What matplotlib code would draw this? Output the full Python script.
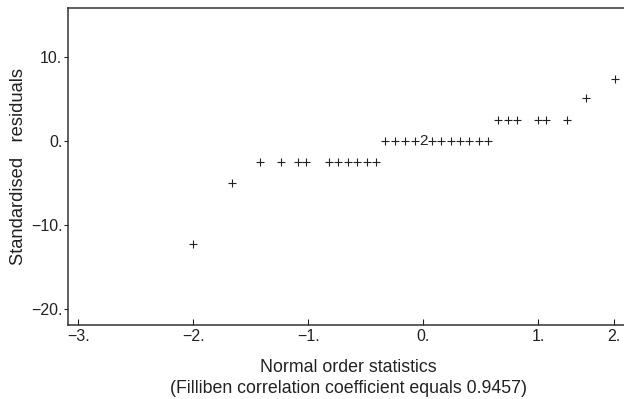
import numpy as np
import matplotlib
matplotlib.use("Agg")
import matplotlib.pyplot as plt
from matplotlib.ticker import FuncFormatter, FixedLocator

# Normal order statistics (x) and standardised residuals (y); count = coincident points
x_vals = [-2.00, -1.66,
          -1.42, -1.24, -1.09, -1.02, -0.82, -0.74, -0.655, -0.578, -0.494, -0.41,
          -0.332, -0.245, -0.158, -0.077, 0.0, 0.074, 0.155, 0.236, 0.32, 0.40, 0.483, 0.566,
          0.65, 0.737, 0.816, 1.0, 1.105, 1.38,
          1.63, 2.01]
y_vals = [-12.3, -5.0,
          -2.5, -2.5, -2.5, -2.5, -2.5, -2.5, -2.5, -2.5, -2.5, -2.5,
          0.0, 0.0, 0.0, 0.0, 0.0, 0.0, 0.0, 0.0, 0.0, 0.0, 0.0, 0.0,
          2.5, 2.5, 2.5, 2.5, 2.5, 2.5,
          5.1, 7.4]
counts = [1, 1,
          1, 1, 1, 1, 1, 1, 1, 1, 1, 1,
          1, 1, 1, 1, 2, 1, 1, 1, 1, 1, 1, 1,
          1, 1, 1, 1, 1, 1,
          1, 1]
x_ticks = [-3, -2, -1, 0, 1, 2]
y_ticks = [-20, -10, 0, 10]
x_label = "Normal order statistics\n(Filliben correlation coefficient equals 0.9457)"
y_label = "Standardised   residuals"

plt.rcParams['font.family'] = ['Liberation Sans', 'DejaVu Sans']
ink = '#222222'

fig = plt.figure(figsize=(6.24, 3.99), dpi=100)
W, H = 624, 399
ax = fig.add_axes([68 / W, 74 / H, 561.5 / W, 317 / H])

k = 0.66
def fwd(v):
    v = np.asarray(v, dtype=float)
    return np.where(v <= 1, v, 1 + (v - 1) * k)
def inv(v):
    v = np.asarray(v, dtype=float)
    return np.where(v <= 1, v, 1 + (v - 1) / k)
ax.set_xscale('function', functions=(fwd, inv))

xs = np.array(x_vals); ys = np.array(y_vals); cs = np.array(counts)
single = cs == 1
ax.plot(xs[single], ys[single], linestyle='none', marker='+', markersize=5.5,
        markeredgewidth=0.8, color=ink)
for xv, yv, c in zip(xs[~single], ys[~single], cs[~single]):
    ax.text(xv, yv, str(c), ha='center', va='center', fontsize=11, color=ink)

ax.set_xlim(-3.09, 2.2)
ax.set_ylim(-21.9, 15.8)

fmt = FuncFormatter(lambda v, p: f"{v:.0f}.".replace('-', '\u2212'))
ax.xaxis.set_major_locator(FixedLocator(x_ticks))
ax.yaxis.set_major_locator(FixedLocator(y_ticks))
ax.xaxis.set_major_formatter(fmt)
ax.yaxis.set_major_formatter(fmt)
ax.xaxis.set_minor_locator(FixedLocator([]))
ax.tick_params(axis='x', direction='in', length=4, width=0.8, colors=ink, labelsize=11.5, pad=3)
ax.tick_params(axis='y', direction='out', length=3, width=0.8, colors=ink, labelsize=11.5, pad=1)

for s in ['left', 'bottom', 'top']:
    ax.spines[s].set_color('#333333')
    ax.spines[s].set_linewidth(1.1)
ax.spines['right'].set_visible(False)

ax.set_xlabel(x_label, fontsize=12.8, color=ink, labelpad=11, linespacing=1.25)
ax.set_ylabel(y_label, fontsize=13.2, color=ink, labelpad=3)

fig.savefig("out.png", dpi=100)
